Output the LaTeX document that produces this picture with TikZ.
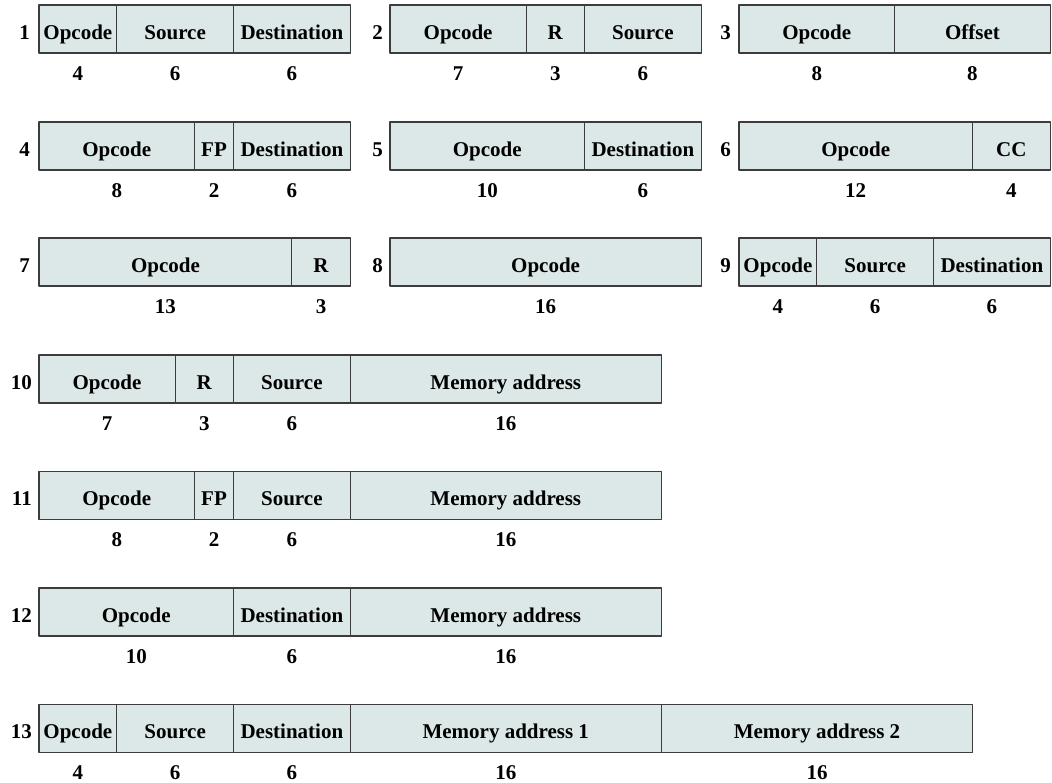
\documentclass[tikz,border=0pt]{standalone}
\usepackage{fontspec}
\setmainfont{Liberation Serif}
\usetikzlibrary{positioning}
\definecolor{fieldfill}{RGB}{220,231,231}
\definecolor{fieldline}{RGB}{60,60,60}
\begin{document}
\begin{tikzpicture}[x=1pt,y=-1pt,line join=round,
		font=\fontsize{21}{25}\selectfont\bfseries,
		field/.style={draw=fieldline,fill=fieldfill,line width=1.2pt,outer sep=0pt,inner sep=0pt,
			minimum height=48pt,text height=22pt,text depth=2pt,anchor=west},
		bits/.style={inner sep=0pt,anchor=base},
		fmtno/.style={inner sep=0pt,anchor=base east}]
	\useasboundingbox (0,0) rectangle (1052,782);
	\def\bw{19.45pt}
	
	% format 1
	\node[field,minimum width=4*\bw] (f1a) at (39,29) {Opcode};
	\node[field,minimum width=6*\bw,right=0pt of f1a] (f1b) {Source};
	\node[field,minimum width=6*\bw,right=0pt of f1b] (f1c) {Destination};
	\node[fmtno] (n1) at ([xshift=-9pt]f1a.base west) {1};
	\node[bits] (b1a) at ([yshift=-41pt]f1a.base) {4};
	\node[bits] (b1b) at ([yshift=-41pt]f1b.base) {6};
	\node[bits] (b1c) at ([yshift=-41pt]f1c.base) {6};
	
	% format 2
	\node[field,minimum width=7*\bw] (f2a) at (390,29) {Opcode};
	\node[field,minimum width=3*\bw,right=0pt of f2a] (f2b) {R};
	\node[field,minimum width=6*\bw,right=0pt of f2b] (f2c) {Source};
	\node[fmtno] (n2) at ([xshift=-7pt]f2a.base west) {2};
	\node[bits] (b2a) at ([yshift=-41pt]f2a.base) {7};
	\node[bits] (b2b) at ([yshift=-41pt]f2b.base) {3};
	\node[bits] (b2c) at ([yshift=-41pt]f2c.base) {6};
	
	% format 3
	\node[field,minimum width=8*\bw] (f3a) at (739,29) {Opcode};
	\node[field,minimum width=8*\bw,right=0pt of f3a] (f3b) {Offset};
	\node[fmtno] (n3) at ([xshift=-8pt]f3a.base west) {3};
	\node[bits] (b3a) at ([yshift=-41pt]f3a.base) {8};
	\node[bits] (b3b) at ([yshift=-41pt]f3b.base) {8};
	
	% format 4
	\node[field,minimum width=8*\bw] (f4a) at (39,146) {Opcode};
	\node[field,minimum width=2*\bw,right=0pt of f4a] (f4b) {FP};
	\node[field,minimum width=6*\bw,right=0pt of f4b] (f4c) {Destination};
	\node[fmtno] (n4) at ([xshift=-9pt]f4a.base west) {4};
	\node[bits] (b4a) at ([yshift=-41pt]f4a.base) {8};
	\node[bits] (b4b) at ([yshift=-41pt]f4b.base) {2};
	\node[bits] (b4c) at ([yshift=-41pt]f4c.base) {6};
	
	% format 5
	\node[field,minimum width=10*\bw] (f5a) at (390,146) {Opcode};
	\node[field,minimum width=6*\bw,right=0pt of f5a] (f5b) {Destination};
	\node[fmtno] (n5) at ([xshift=-7pt]f5a.base west) {5};
	\node[bits] (b5a) at ([yshift=-41pt]f5a.base) {10};
	\node[bits] (b5b) at ([yshift=-41pt]f5b.base) {6};
	
	% format 6
	\node[field,minimum width=12*\bw] (f6a) at (739,146) {Opcode};
	\node[field,minimum width=4*\bw,right=0pt of f6a] (f6b) {CC};
	\node[fmtno] (n6) at ([xshift=-8pt]f6a.base west) {6};
	\node[bits] (b6a) at ([yshift=-41pt]f6a.base) {12};
	\node[bits] (b6b) at ([yshift=-41pt]f6b.base) {4};
	
	% format 7
	\node[field,minimum width=13*\bw] (f7a) at (39,262) {Opcode};
	\node[field,minimum width=3*\bw,right=0pt of f7a] (f7b) {R};
	\node[fmtno] (n7) at ([xshift=-9pt]f7a.base west) {7};
	\node[bits] (b7a) at ([yshift=-41pt]f7a.base) {13};
	\node[bits] (b7b) at ([yshift=-41pt]f7b.base) {3};
	
	% format 8
	\node[field,minimum width=16*\bw] (f8a) at (390,262) {Opcode};
	\node[fmtno] (n8) at ([xshift=-7pt]f8a.base west) {8};
	\node[bits] (b8a) at ([yshift=-41pt]f8a.base) {16};
	
	% format 9
	\node[field,minimum width=4*\bw] (f9a) at (739,262) {Opcode};
	\node[field,minimum width=6*\bw,right=0pt of f9a] (f9b) {Source};
	\node[field,minimum width=6*\bw,right=0pt of f9b] (f9c) {Destination};
	\node[fmtno] (n9) at ([xshift=-8pt]f9a.base west) {9};
	\node[bits] (b9a) at ([yshift=-41pt]f9a.base) {4};
	\node[bits] (b9b) at ([yshift=-41pt]f9b.base) {6};
	\node[bits] (b9c) at ([yshift=-41pt]f9c.base) {6};
	
	% format 10
	\node[field,minimum width=7*\bw] (f10a) at (39,379) {Opcode};
	\node[field,minimum width=3*\bw,right=0pt of f10a] (f10b) {R};
	\node[field,minimum width=6*\bw,right=0pt of f10b] (f10c) {Source};
	\node[field,minimum width=16*\bw,right=0pt of f10c] (f10d) {Memory address};
	\node[fmtno] (n10) at ([xshift=-7pt]f10a.base west) {10};
	\node[bits] (b10a) at ([yshift=-41pt]f10a.base) {7};
	\node[bits] (b10b) at ([yshift=-41pt]f10b.base) {3};
	\node[bits] (b10c) at ([yshift=-41pt]f10c.base) {6};
	\node[bits] (b10d) at ([yshift=-41pt]f10d.base) {16};
	
	% format 11
	\node[field,minimum width=8*\bw] (f11a) at (39,495.5) {Opcode};
	\node[field,minimum width=2*\bw,right=0pt of f11a] (f11b) {FP};
	\node[field,minimum width=6*\bw,right=0pt of f11b] (f11c) {Source};
	\node[field,minimum width=16*\bw,right=0pt of f11c] (f11d) {Memory address};
	\node[fmtno] (n11) at ([xshift=-7pt]f11a.base west) {11};
	\node[bits] (b11a) at ([yshift=-41pt]f11a.base) {8};
	\node[bits] (b11b) at ([yshift=-41pt]f11b.base) {2};
	\node[bits] (b11c) at ([yshift=-41pt]f11c.base) {6};
	\node[bits] (b11d) at ([yshift=-41pt]f11d.base) {16};
	
	% format 12
	\node[field,minimum width=10*\bw] (f12a) at (39,612) {Opcode};
	\node[field,minimum width=6*\bw,right=0pt of f12a] (f12b) {Destination};
	\node[field,minimum width=16*\bw,right=0pt of f12b] (f12c) {Memory address};
	\node[fmtno] (n12) at ([xshift=-7pt]f12a.base west) {12};
	\node[bits] (b12a) at ([yshift=-41pt]f12a.base) {10};
	\node[bits] (b12b) at ([yshift=-41pt]f12b.base) {6};
	\node[bits] (b12c) at ([yshift=-41pt]f12c.base) {16};
	
	% format 13
	\node[field,minimum width=4*\bw] (f13a) at (39,728.5) {Opcode};
	\node[field,minimum width=6*\bw,right=0pt of f13a] (f13b) {Source};
	\node[field,minimum width=6*\bw,right=0pt of f13b] (f13c) {Destination};
	\node[field,minimum width=16*\bw,right=0pt of f13c] (f13d) {Memory address 1};
	\node[field,minimum width=16*\bw,right=0pt of f13d] (f13e) {Memory address 2};
	\node[fmtno] (n13) at ([xshift=-7pt]f13a.base west) {13};
	\node[bits] (b13a) at ([yshift=-41pt]f13a.base) {4};
	\node[bits] (b13b) at ([yshift=-41pt]f13b.base) {6};
	\node[bits] (b13c) at ([yshift=-41pt]f13c.base) {6};
	\node[bits] (b13d) at ([yshift=-41pt]f13d.base) {16};
	\node[bits] (b13e) at ([yshift=-41pt]f13e.base) {16};
\end{tikzpicture}
\end{document}
